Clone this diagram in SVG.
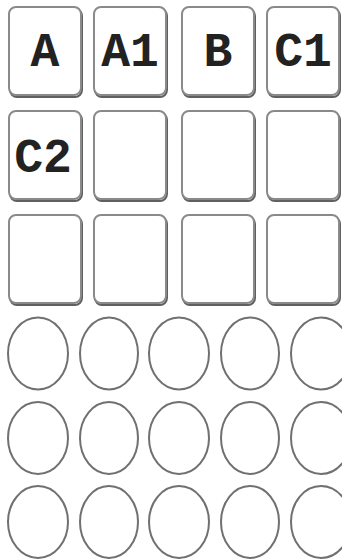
<svg xmlns="http://www.w3.org/2000/svg" width="342" height="560" viewBox="0 0 342 560">
<style>
.sh{fill:none;stroke:#606060;stroke-width:2}
.bx{fill:#fff;stroke:#8a8a8a;stroke-width:2}
.ov{fill:#fff;stroke:#707070;stroke-width:2}
.t{font-family:"Liberation Mono","DejaVu Sans Mono",monospace;font-weight:bold;font-size:48px;fill:#222;text-anchor:middle}
</style>
<rect width="342" height="560" fill="#fff"/>
<defs>
<g id="box"><rect class="sh" x="1" y="2" width="72" height="88" rx="7"/><rect class="bx" x="0" y="0" width="72" height="88" rx="7"/></g>
</defs>
<g id="A"><use href="#box" x="9" y="7"/><text class="t" x="45" y="66">A</text></g>
<g id="A1"><use href="#box" x="94" y="7"/><text class="t" x="130" y="66">A1</text></g>
<g id="B"><use href="#box" x="182" y="7"/><text class="t" x="218" y="66">B</text></g>
<g id="C1"><use href="#box" x="267" y="7"/><text class="t" x="303" y="66">C1</text></g>
<g id="C2"><use href="#box" x="9" y="111"/><text class="t" x="43" y="172">C2</text></g>
<g id="r2c2"><use href="#box" x="94" y="111"/></g>
<g id="r2c3"><use href="#box" x="182" y="111"/></g>
<g id="r2c4"><use href="#box" x="267" y="111"/></g>
<g id="r3c1"><use href="#box" x="9" y="215"/></g>
<g id="r3c2"><use href="#box" x="94" y="215"/></g>
<g id="r3c3"><use href="#box" x="182" y="215"/></g>
<g id="r3c4"><use href="#box" x="267" y="215"/></g>
<g id="o11"><ellipse class="ov" cx="38" cy="353.5" rx="30" ry="36"/></g>
<g id="o12"><ellipse class="ov" cx="109" cy="353.5" rx="29" ry="36"/></g>
<g id="o13"><ellipse class="ov" cx="179" cy="353.5" rx="30" ry="36"/></g>
<g id="o14"><ellipse class="ov" cx="250" cy="353.5" rx="29" ry="36"/></g>
<g id="o15"><ellipse class="ov" cx="321" cy="353.5" rx="30" ry="36"/></g>
<g id="o21"><ellipse class="ov" cx="38" cy="438" rx="30" ry="36"/></g>
<g id="o22"><ellipse class="ov" cx="109" cy="438" rx="29" ry="36"/></g>
<g id="o23"><ellipse class="ov" cx="179" cy="438" rx="30" ry="36"/></g>
<g id="o24"><ellipse class="ov" cx="250" cy="438" rx="29" ry="36"/></g>
<g id="o25"><ellipse class="ov" cx="321" cy="438" rx="30" ry="36"/></g>
<g id="o31"><ellipse class="ov" cx="38" cy="522" rx="30" ry="36"/></g>
<g id="o32"><ellipse class="ov" cx="109" cy="522" rx="29" ry="36"/></g>
<g id="o33"><ellipse class="ov" cx="179" cy="522" rx="30" ry="36"/></g>
<g id="o34"><ellipse class="ov" cx="250" cy="522" rx="29" ry="36"/></g>
<g id="o35"><ellipse class="ov" cx="321" cy="522" rx="30" ry="36"/></g>
<g id="connectors"/>
</svg>
